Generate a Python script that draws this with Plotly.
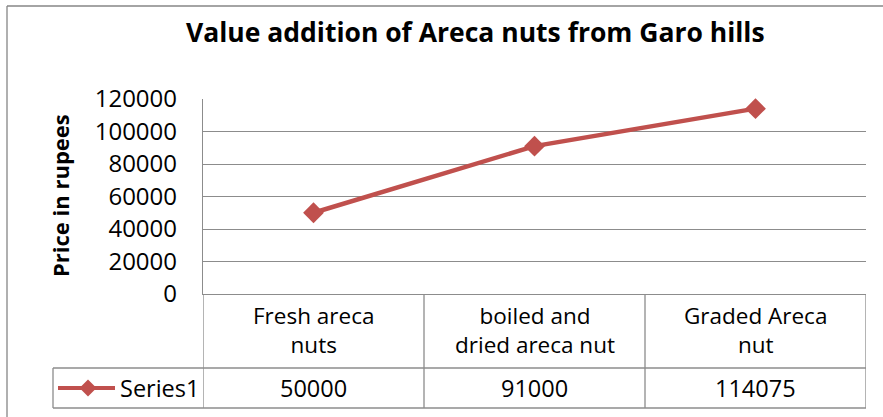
import plotly.graph_objects as go

categories = ["Fresh areca<br>nuts", "boiled and<br>dried areca nut", "Graded Areca<br>nut"]
values = [50000, 91000, 114075]
series_name = "Series1"
y_ticks = [0, 20000, 40000, 60000, 80000, 100000, 120000]
title = "Value addition of Areca nuts from Garo hills"
y_title = "Price in rupees"

FONT = "Open Sans"
RED = "#C0504D"
GRID = "#8c8c8c"

W, H = 883, 417
L, R, T, B = 203, 17, 99, 123
pw = W - L - R
ph = H - T - B

def px_x(p):
    return (p - L) / pw

def px_y(p):
    return (H - B - p) / ph

xs = list(range(len(categories)))

fig = go.Figure()
fig.add_trace(go.Scatter(
    x=xs, y=values, mode="lines+markers", name=series_name,
    line=dict(color=RED, width=4.5),
    marker=dict(symbol="diamond", size=16, color=RED),
    showlegend=False, cliponaxis=False,
))

shapes = []
ann = []
row1 = px_y(368)
row2 = px_y(408)
n = len(categories)
lw = 1.3
shapes.append(dict(type="line", xref="x", yref="paper", x0=-0.5, x1=n - 0.5, y0=row1, y1=row1,
                   line=dict(color=GRID, width=lw)))
shapes.append(dict(type="line", xref="paper", yref="paper", x0=px_x(53), x1=0, y0=row1, y1=row1,
                   line=dict(color=GRID, width=lw)))
shapes.append(dict(type="line", xref="paper", yref="paper", x0=px_x(53), x1=1, y0=row2, y1=row2,
                   line=dict(color=GRID, width=lw)))
shapes.append(dict(type="line", xref="paper", yref="paper", x0=px_x(53), x1=px_x(53), y0=row1, y1=row2,
                   line=dict(color=GRID, width=lw)))
for i in range(n + 1):
    shapes.append(dict(type="line", xref="x", yref="paper", x0=i - 0.5, x1=i - 0.5, y0=0, y1=row2,
                       line=dict(color=GRID, width=lw)))
shapes.append(dict(type="line", xref="paper", yref="paper", x0=px_x(7), x1=px_x(7), y0=px_y(6), y1=px_y(420),
                   line=dict(color="#868686", width=lw)))
shapes.append(dict(type="line", xref="paper", yref="paper", x0=px_x(7), x1=px_x(890), y0=px_y(6), y1=px_y(6),
                   line=dict(color="#868686", width=lw)))
# legend key
ky = px_y(388)
shapes.append(dict(type="line", xref="paper", yref="paper", x0=px_x(58), x1=px_x(115), y0=ky, y1=ky,
                   line=dict(color=RED, width=4)))
shapes.append(dict(type="path", xref="paper", yref="paper", xsizemode="pixel", ysizemode="pixel",
                   xanchor=px_x(88), yanchor=ky, path="M -8.5 0 L 0 8.5 L 8.5 0 L 0 -8.5 Z",
                   fillcolor=RED, line=dict(width=0)))

for i, (c, v) in enumerate(zip(categories, values)):
    ann.append(dict(x=i, y=px_y(330), xref="x", yref="paper", text=c, showarrow=False,
                    xanchor="center", yanchor="middle",
                    font=dict(family=FONT, size=22.5, color="#000"), align="center"))
    ann.append(dict(x=i, y=px_y(388), xref="x", yref="paper", text=str(v), showarrow=False,
                    xanchor="center", yanchor="middle",
                    font=dict(family=FONT, size=23.5, color="#000")))

ann.append(dict(x=px_x(201), y=px_y(388), xref="paper", yref="paper", text=series_name, showarrow=False,
                xanchor="right", yanchor="middle", font=dict(family=FONT, size=23.5, color="#000")))
ann.append(dict(x=px_x(475), y=px_y(32), xref="paper", yref="paper", text="<b>" + title + "</b>",
                showarrow=False, xanchor="center", yanchor="middle",
                font=dict(family=FONT, size=26.5, color="#000")))
ann.append(dict(x=px_x(60), y=px_y(196), xref="paper", yref="paper", text="<b>" + y_title + "</b>",
                showarrow=False, textangle=-90, xanchor="center", yanchor="middle",
                font=dict(family=FONT, size=22, color="#000")))

fig.update_layout(
    width=W, height=H,
    margin=dict(l=L, r=R, t=T, b=B, pad=0),
    paper_bgcolor="white", plot_bgcolor="white",
    shapes=shapes, annotations=ann, showlegend=False,
    xaxis=dict(range=[-0.5, n - 0.5], showticklabels=False, showgrid=False, zeroline=False,
               showline=True, linecolor=GRID, linewidth=lw, fixedrange=True),
    yaxis=dict(range=[0, 120000], tickvals=y_ticks, ticktext=[str(t) for t in y_ticks],
               showgrid=True, gridcolor=GRID, gridwidth=lw, zeroline=False,
               showline=True, linecolor=GRID, linewidth=lw, ticks="", ticklabelstandoff=20,
               tickfont=dict(family=FONT, size=24, color="#000")),
)

fig.write_html("out.html", config={"displayModeBar": False},
               post_script="document.body.style.margin='0';document.body.style.overflow='hidden';")
